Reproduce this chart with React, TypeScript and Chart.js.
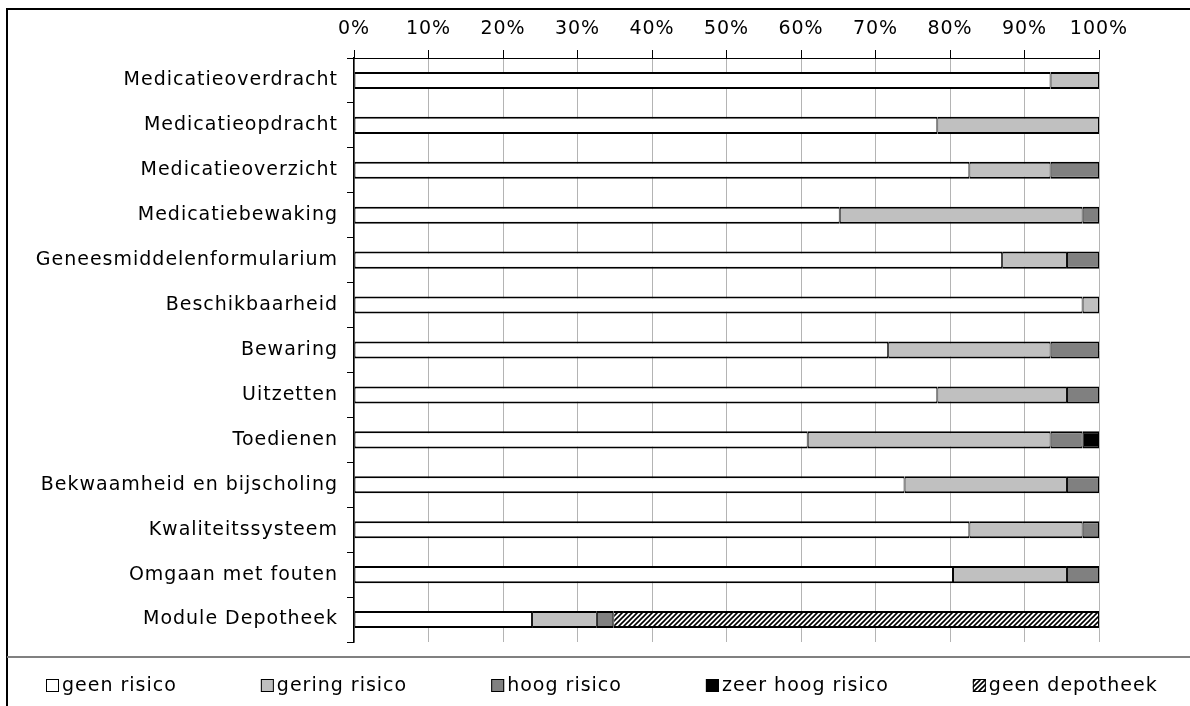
import { useEffect, useRef } from "react";
import { Chart, registerables } from "chart.js";

Chart.register(...registerables);

const categories = [
  "Medicatieoverdracht",
  "Medicatieopdracht",
  "Medicatieoverzicht",
  "Medicatiebewaking",
  "Geneesmiddelenformularium",
  "Beschikbaarheid",
  "Bewaring",
  "Uitzetten",
  "Toedienen",
  "Bekwaamheid en bijscholing",
  "Kwaliteitssysteem",
  "Omgaan met fouten",
  "Module Depotheek",
];

const geenRisico = [93.5, 78.3, 82.6, 65.2, 87.0, 97.8, 71.7, 78.3, 60.9, 73.9, 82.6, 80.4, 23.9];
const geringRisico = [6.5, 21.7, 10.9, 32.6, 8.7, 2.2, 21.8, 17.4, 32.6, 21.8, 15.2, 15.3, 8.7];
const hoogRisico = [null, null, 6.5, 2.2, 4.3, null, 6.5, 4.3, 4.3, 4.3, 2.2, 4.3, 2.2];
const zeerHoogRisico = [null, null, null, null, null, null, null, null, 2.2, null, null, null, null];
const geenDepotheek = [null, null, null, null, null, null, null, null, null, null, null, null, 65.2];

const seriesLabels = ["geen risico", "gering risico", "hoog risico", "zeer hoog risico", "geen depotheek"];
const xTickStep = 10;
const xMax = 100;

const FONT_FAMILY = '"DejaVu Sans", Verdana, sans-serif';
const FONT_SIZE = 19;

export default function App() {
  const ref = useRef<HTMLCanvasElement>(null);

  useEffect(() => {
    const canvas = ref.current;
    if (!canvas) return;

    const pc = document.createElement("canvas");
    pc.width = 5;
    pc.height = 5;
    const pctx = pc.getContext("2d")!;
    pctx.fillStyle = "#ffffff";
    pctx.fillRect(0, 0, 5, 5);
    pctx.strokeStyle = "#000000";
    pctx.lineWidth = 1.6;
    pctx.beginPath();
    pctx.moveTo(-1, 6);
    pctx.lineTo(6, -1);
    pctx.moveTo(-1, 1);
    pctx.lineTo(1, -1);
    pctx.moveTo(4, 6);
    pctx.lineTo(6, 4);
    pctx.stroke();
    const hatch = canvas.getContext("2d")!.createPattern(pc, "repeat")!;

    const spacingPlugin = {
      id: "spacing",
      beforeLayout(chart: any) {
        chart.ctx.letterSpacing = "1px";
      },
      beforeDraw(chart: any) {
        chart.ctx.letterSpacing = "1px";
      },
    };

    const legendPlugin = {
      id: "customLegend",
      afterDraw(chart: any) {
        const ctx = chart.ctx as CanvasRenderingContext2D;
        ctx.save();
        ctx.font = `${FONT_SIZE}px ${FONT_FAMILY}`;
        (ctx as any).letterSpacing = "1px";
        const box = 13;
        const gapBT = 3;
        const gapItems = 84;
        const ds = chart.data.datasets;
        const widths = ds.map((d: any) => ctx.measureText(d.label).width);
        let total = 0;
        widths.forEach((w: number, i: number) => {
          total += box + gapBT + w + (i < widths.length - 1 ? gapItems : 0);
        });
        let x = Math.round(602 - total / 2);
        const y = 686;
        ds.forEach((d: any, i: number) => {
          ctx.fillStyle = d.backgroundColor;
          ctx.fillRect(x, y - 7, box, box);
          ctx.strokeStyle = "#000";
          ctx.lineWidth = 1;
          ctx.strokeRect(x + 0.5, y - 6.5, box - 1, box - 1);
          ctx.fillStyle = "#000";
          ctx.textBaseline = "middle";
          ctx.textAlign = "left";
          ctx.fillText(d.label, x + box + gapBT, y);
          x += box + gapBT + widths[i] + gapItems;
        });
        ctx.restore();
      },
    };

    const common = {
      borderColor: "#000000",
      borderWidth: { top: 2, bottom: 2, left: 1, right: 1 },
      borderSkipped: false,
      barPercentage: 0.38,
      categoryPercentage: 1.0,
    };

    Chart.defaults.color = "#000";

    const chart = new Chart(canvas, {
      type: "bar",
      data: {
        labels: categories,
        datasets: [
          { label: seriesLabels[0], data: geenRisico, backgroundColor: "#ffffff", ...common },
          { label: seriesLabels[1], data: geringRisico, backgroundColor: "#c0c0c0", ...common },
          { label: seriesLabels[2], data: hoogRisico, backgroundColor: "#808080", ...common },
          { label: seriesLabels[3], data: zeerHoogRisico, backgroundColor: "#000000", ...common },
          { label: seriesLabels[4], data: geenDepotheek, backgroundColor: hatch, ...common },
        ] as any,
      },
      options: {
        indexAxis: "y",
        responsive: false,
        animation: false,
        layout: { padding: { left: 0, top: 0, right: 91, bottom: 64 } },
        plugins: {
          legend: { display: false },
          tooltip: { enabled: false },
        },
        scales: {
          x: {
            position: "top",
            stacked: true,
            min: 0,
            max: xMax,
            afterFit(scale: any) {
              scale.height = 58;
            },
            ticks: {
              stepSize: xTickStep,
              padding: 10,
              color: "#000",
              font: { family: FONT_FAMILY, size: FONT_SIZE },
              callback: (v: any) => `${v}%`,
              maxRotation: 0,
            },
            grid: {
              display: true,
              drawOnChartArea: true,
              color: "#b4b4b4",
              tickColor: "#000",
              tickLength: 8,
              lineWidth: 1,
            },
            border: { color: "#000", width: 1 },
          },
          y: {
            stacked: true,
            afterFit(scale: any) {
              scale.width = 354;
            },
            ticks: {
              padding: 9,
              color: "#000",
              font: { family: FONT_FAMILY, size: FONT_SIZE },
            },
            grid: {
              drawOnChartArea: false,
              tickColor: "#000",
              tickLength: 7,
              offset: true,
            },
            border: { color: "#000", width: 1.5 },
          },
        },
      } as any,
      plugins: [spacingPlugin, legendPlugin],
    });

    return () => chart.destroy();
  }, []);

  return (
    <div
      style={{
        position: "fixed",
        left: 0,
        top: 0,
        width: 1190,
        height: 706,
        overflow: "hidden",
        background: "#ffffff",
      }}
    >
      <div
        style={{
          position: "absolute",
          left: 6,
          top: 8,
          width: 1300,
          height: 900,
          border: "2px solid #000",
          boxSizing: "border-box",
        }}
      />
      <div
        style={{
          position: "absolute",
          left: 7,
          top: 656,
          width: 1300,
          height: 2,
          background: "#808080",
        }}
      />
      <canvas
        ref={ref}
        width={1190}
        height={706}
        style={{ position: "absolute", left: 0, top: 0, width: 1190, height: 706 }}
      />
    </div>
  );
}
